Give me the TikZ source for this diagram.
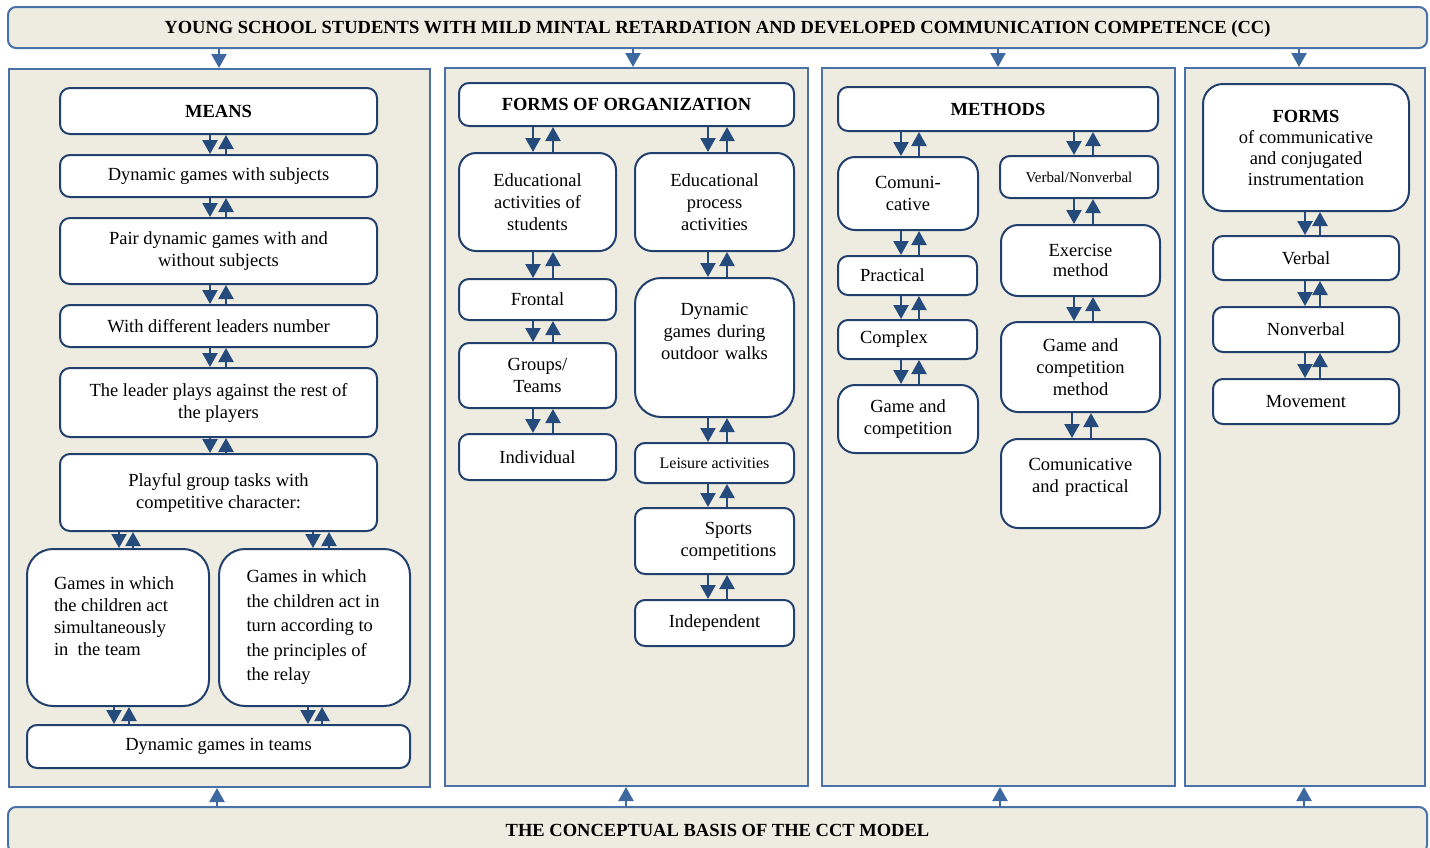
\documentclass[tikz,border=0pt]{standalone}
\usepackage{fontspec}
\setmainfont{Liberation Serif}
\usetikzlibrary{arrows.meta}
\definecolor{beige}{HTML}{EEECE1}
\definecolor{panelblue}{HTML}{4A72A8}
\definecolor{boxblue}{HTML}{22406E}
\definecolor{arrowblue}{HTML}{254A7C}
\definecolor{outerblue}{HTML}{3D68A0}
\tikzset
{
    banner/.style = {rectangle, rounded corners=8, draw=panelblue, line width=2, fill=beige, text depth=0, font=\fontsize{18.5}{22}\selectfont\bfseries},
    panel/.style  = {rectangle, draw=panelblue, line width=2, fill=beige},
    box/.style    = {rectangle, rounded corners=10, draw=boxblue, line width=2, fill=white, align=center, inner sep=0},
    bigbox/.style = {box, rounded corners=17},
    small/.style  = {font=\fontsize{16}{19}\selectfont},
    dn/.style     = {line width=2.2, draw=arrowblue, -{Triangle[width=15pt,length=14pt]}},
    outer/.style  = {line width=2.2, draw=outerblue, -{Triangle[width=15pt,length=14pt]}}
}

\begin{document}
\begin{tikzpicture}[x=1pt, y=-1pt, font=\fontsize{18.5}{22}\selectfont]
\useasboundingbox (0,0) rectangle (1430,847);
\clip (0,0) rectangle (1430,847);
\newcommand\twoway[4]{%
  \draw[dn] (#3,0 |- #1.south) -- (#3,0 |- #2.north);
  \draw[dn] (#4,0 |- #2.north) -- (#4,0 |- #1.south);}
% banners and panels
\node(top) [banner, minimum width=1419, minimum height=41] at (717.5,27.5) {YOUNG SCHOOL STUDENTS WITH MILD MINTAL RETARDATION AND DEVELOPED COMMUNICATION COMPETENCE (CC)};
\node(base) [banner, minimum width=1419, minimum height=46] at (717.5,830) {THE CONCEPTUAL BASIS OF THE CCT MODEL};
\node(pmeans) [panel, minimum width=421, minimum height=718] at (219.5,428) {};
\node(porg) [panel, minimum width=363, minimum height=718] at (626.5,427) {};
\node(pmeth) [panel, minimum width=353, minimum height=718] at (998.5,427) {};
\node(pforms) [panel, minimum width=240, minimum height=718] at (1305,427) {};
\foreach \xa/\p in {219/pmeans, 633/porg, 998/pmeth, 1299/pforms}
  \draw[outer] (\xa,0 |- top.south) -- (\xa,0 |- \p.north);
\foreach \xa/\p in {217/pmeans, 626/porg, 1000/pmeth, 1304/pforms}
  \draw[outer] (\xa,0 |- base.north) -- (\xa,0 |- \p.south);
% means
\node(means) [box, minimum width=317, minimum height=46] at (218.5,111) {\textbf{MEANS}};
\node(dsub) [box, minimum width=317, minimum height=42] at (218.5,176) {Dynamic games with subjects};
\node(pair) [box, minimum width=317, minimum height=66] at (218.5,251) {Pair dynamic games with and\\without subjects};
\node(lead) [box, minimum width=317, minimum height=42] at (218.5,326) {With different leaders number};
\node(rest) [box, minimum width=317, minimum height=69] at (218.5,402.5) {The leader plays against the rest of\\the players};
\node(play) [box, minimum width=317, minimum height=77] at (218.5,492.5) {Playful group tasks with\\competitive character:};
\node(gsim) [box, rounded corners=26, minimum width=182, minimum height=157, text width=128, align=flush left] at (118,627.5) {Games in which\\the children act\\simultaneously\\in\ \ the team\\\mbox{}};
\node(grel) [box, rounded corners=26, minimum width=191, minimum height=157, text width=136, align=flush left, font=\fontsize{18.5}{24.5}\selectfont] at (314.5,627.5) {Games in which\\the children act in\\turn according to\\the principles of\\the relay};
\node(teams) [box, minimum width=383, minimum height=43] at (218.5,746.5) {Dynamic games in teams};
\foreach \a/\b in {means/dsub, dsub/pair, pair/lead, lead/rest, rest/play}
  \twoway{\a}{\b}{210}{226};
\twoway{play}{gsim}{119}{133}
\twoway{play}{grel}{313}{329}
\twoway{gsim}{teams}{114}{129}
\twoway{grel}{teams}{308}{322}
% forms of organization
\node(forg) [box, minimum width=335, minimum height=43] at (626.5,104.5) {\textbf{FORMS OF ORGANIZATION}};
\node(eact) [bigbox, minimum width=157, minimum height=98] at (537.5,202) {Educational\\activities of\\students};
\node(eproc) [bigbox, minimum width=159, minimum height=98] at (714.5,202) {Educational\\process\\activities};
\node(front) [box, minimum width=157, minimum height=41] at (537.5,299.5) {Frontal};
\node(groups) [box, minimum width=157, minimum height=65] at (537.5,375.5) {Groups/\\Teams};
\node(indiv) [box, minimum width=157, minimum height=46] at (537.5,457) {Individual};
\node(walks) [box, rounded corners=26, minimum width=159, minimum height=139, text width=140] at (714.5,347.5) {Dynamic\\games during\\outdoor walks\\[10pt]\mbox{}};
\node(leis) [box, small, minimum width=159, minimum height=40] at (714.5,463) {Leisure activities};
\node(sport) [box, minimum width=159, minimum height=66] at (714.5,541) {\hspace*{28pt}Sports\\\hspace*{28pt}competitions};
\node(indep) [box, minimum width=159, minimum height=46] at (714.5,623) {Independent};
\twoway{forg}{eact}{533}{553}
\twoway{forg}{eproc}{708}{727}
\foreach \a/\b in {eact/front, front/groups, groups/indiv}
  \twoway{\a}{\b}{533}{553};
\foreach \a/\b in {eproc/walks, walks/leis, leis/sport, sport/indep}
  \twoway{\a}{\b}{708}{727};
% methods
\node(meth) [box, minimum width=320, minimum height=44] at (998,109) {\textbf{METHODS}};
\node(comm) [bigbox, minimum width=140, minimum height=73] at (908,193.5) {Comuni-\\cative};
\node(verb) [box, minimum width=158, minimum height=42, font=\fontsize{15}{18}\selectfont] at (1079,177) {Verbal/Nonverbal};
\node(prac) [box, minimum width=139, minimum height=39, text width=95, align=flush left] at (907.5,275.5) {Practical};
\node(cmplx) [box, minimum width=139, minimum height=39, text width=95, align=flush left] at (907.5,339.5) {Complex};
\node(gcomp) [bigbox, minimum width=140, minimum height=68] at (908,419) {Game and\\competition};
\node(exer) [bigbox, minimum width=159, minimum height=71, font=\fontsize{18.5}{19.5}\selectfont] at (1080.5,260.5) {Exercise\\method};
\node(gcm) [bigbox, minimum width=159, minimum height=90] at (1080.5,367) {Game and\\competition\\method};
\node(cprac) [bigbox, minimum width=159, minimum height=89, text width=150] at (1080.5,483.5) {Comunicative\\and practical\\[-6pt]\mbox{}};
\foreach \a/\b in {meth/comm, comm/prac, prac/cmplx, cmplx/gcomp}
  \twoway{\a}{\b}{901}{919};
\foreach \a/\b in {meth/verb, verb/exer, exer/gcm}
  \twoway{\a}{\b}{1074}{1093};
\twoway{gcm}{cprac}{1072}{1091}
% forms
\node(forms) [box, rounded corners=20, minimum width=206, minimum height=127, font=\fontsize{18.5}{21}\selectfont] at (1306,147.5) {\textbf{FORMS}\\of communicative\\and conjugated\\instrumentation};
\node(verbal) [box, minimum width=186, minimum height=44] at (1306,258) {Verbal};
\node(nonv) [box, minimum width=186, minimum height=45] at (1306,329.5) {Nonverbal};
\node(move) [box, minimum width=186, minimum height=45] at (1306,401.5) {Movement};
\foreach \a/\b in {forms/verbal, verbal/nonv, nonv/move}
  \twoway{\a}{\b}{1305}{1320};
\end{tikzpicture}
\end{document}
